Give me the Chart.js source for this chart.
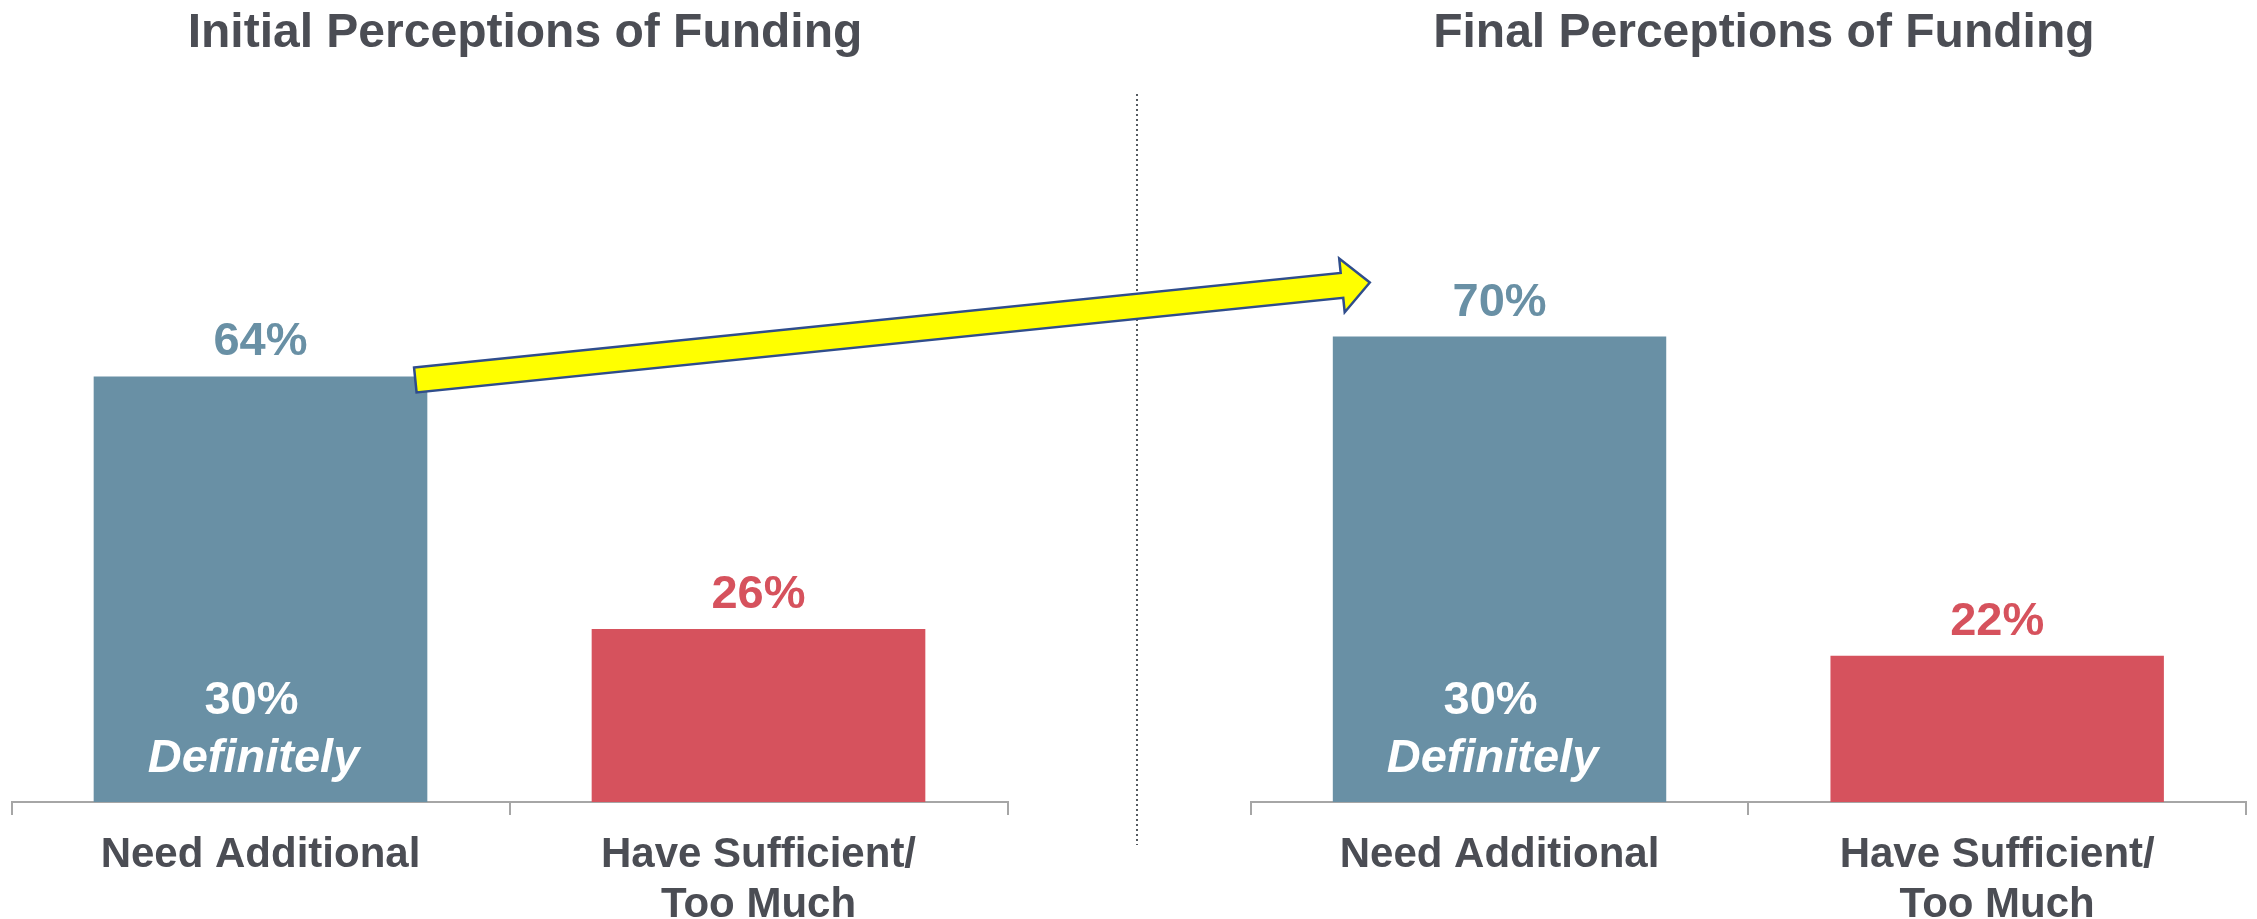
<!DOCTYPE html>
<html>
<head>
<meta charset="utf-8">
<title>Perceptions of Funding</title>
<script src="https://cdn.jsdelivr.net/npm/chart.js@4.4.1/dist/chart.umd.min.js"></script>
<style>
  html, body { margin: 0; padding: 0; background: #fff; overflow: hidden; }
  #wrap { position: relative; width: 2257px; height: 919px; }
  #wrap canvas { position: absolute; left: 0; top: 0; }
</style>
</head>
<body>
<div id="wrap">
  <canvas id="initial" width="2257" height="919"></canvas>
  <canvas id="final" width="2257" height="919"></canvas>
</div>
<script>
// data
const categories = [['Need Additional'], ['Have Sufficient/', 'Too Much']];
const initialValues = [64, 26];
const finalValues = [70, 22];
const initialDefinitely = [30, null];
const finalDefinitely = [30, null];
const initialTitle = 'Initial Perceptions of Funding';
const finalTitle = 'Final Perceptions of Funding';

const BLUE = '#6990a5';
const RED = '#d6525d';
const GREY_TEXT = '#4b4d54';
const FONT = '"Liberation Sans", Arial, Helvetica, sans-serif';

Chart.defaults.font.family = FONT;
Chart.defaults.animation = false;

// % over each bar, "30% Definitely" inside the blue bar, and the panel title
const barLabels = {
  id: 'barLabels',
  afterDatasetsDraw(chart, args, opts) {
    const ctx = chart.ctx;
    const meta = chart.getDatasetMeta(0);
    const ds = chart.data.datasets[0];
    const yZero = chart.scales.y.getPixelForValue(0);
    ctx.save();
    ctx.textAlign = 'center';
    ctx.textBaseline = 'alphabetic';
    meta.data.forEach((bar, i) => {
      ctx.font = 'bold 47px ' + FONT;
      ctx.fillStyle = ds.backgroundColor[i];
      ctx.fillText(ds.data[i] + '%', bar.x, bar.y - 21);
      const d = opts.definitely[i];
      if (d != null) {
        ctx.fillStyle = '#ffffff';
        ctx.fillText(d + '%', bar.x - 9, yZero - 88);
        ctx.font = 'italic bold 47px ' + FONT;
        ctx.fillText('Definitely', bar.x - 7, yZero - 30);
      }
    });
    // title sits a bit right of the axis centre, like the original
    const area = chart.chartArea;
    ctx.font = 'bold 48px ' + FONT;
    ctx.fillStyle = GREY_TEXT;
    ctx.fillText(opts.title, (area.left + area.right) / 2 + 15.5, 47);
    ctx.restore();
  }
};

function makeChart(id, values, definitely, title, padLeft, padRight, extra) {
  return new Chart(document.getElementById(id), {
    type: 'bar',
    data: {
      labels: categories,
      datasets: [{
        data: values,
        backgroundColor: [BLUE, RED],
        barPercentage: 0.67,
        categoryPercentage: 1
      }]
    },
    options: {
      responsive: false,
      layout: { padding: { left: padLeft, right: padRight, top: 137, bottom: 0 } },
      plugins: {
        legend: { display: false },
        tooltip: { enabled: false },
        barLabels: { definitely: definitely, title: title }
      },
      scales: {
        x: {
          grid: { drawOnChartArea: false, drawTicks: true, tickLength: 13, color: '#a6a6a6', lineWidth: 2, offset: true },
          border: { color: '#a6a6a6', width: 2 },
          ticks: {
            color: GREY_TEXT,
            font: { size: 42, weight: 'bold', lineHeight: 1.2 },
            padding: 15,
            maxRotation: 0,
            autoSkip: false
          },
          afterFit(scale) { scale.height = 117; }
        },
        y: { display: false, min: 0, max: 100 }
      }
    },
    plugins: [barLabels].concat(extra || [])
  });
}

const initialChart = makeChart('initial', initialValues, initialDefinitely, initialTitle, 11.5, 1249.5);

// dotted divider + yellow arrow from the initial to the final "Need Additional" bar
const arrowAndDivider = {
  id: 'arrowAndDivider',
  afterDraw(chart) {
    const ctx = chart.ctx;
    ctx.save();
    ctx.strokeStyle = '#555a60';
    ctx.lineWidth = 2;
    ctx.setLineDash([2, 3]);
    ctx.beginPath();
    ctx.moveTo(1137, 94);
    ctx.lineTo(1137, 845);
    ctx.stroke();
    ctx.setLineDash([]);

    const from = initialChart.getDatasetMeta(0).data[0];
    const to = chart.getDatasetMeta(0).data[0];
    const x0 = from.x + from.width / 2 - 12, y0 = from.y + 3.6;
    const x1 = to.x - to.width / 2 + 37, y1 = to.y - 54;
    const len = Math.hypot(x1 - x0, y1 - y0);
    ctx.translate(x0, y0);
    ctx.rotate(Math.atan2(y1 - y0, x1 - x0));
    const h = 12.5, H = 27, hl = 28;
    ctx.beginPath();
    ctx.moveTo(0, -h);
    ctx.lineTo(len - hl, -h);
    ctx.lineTo(len - hl, -H);
    ctx.lineTo(len, 0);
    ctx.lineTo(len - hl, H);
    ctx.lineTo(len - hl, h);
    ctx.lineTo(0, h);
    ctx.closePath();
    ctx.fillStyle = '#ffff00';
    ctx.fill();
    ctx.strokeStyle = '#2f4d8c';
    ctx.lineWidth = 2.5;
    ctx.stroke();
    ctx.restore();
  }
};

const finalChart = makeChart('final', finalValues, finalDefinitely, finalTitle, 1250.7, 11, [arrowAndDivider]);
</script>
</body>
</html>
